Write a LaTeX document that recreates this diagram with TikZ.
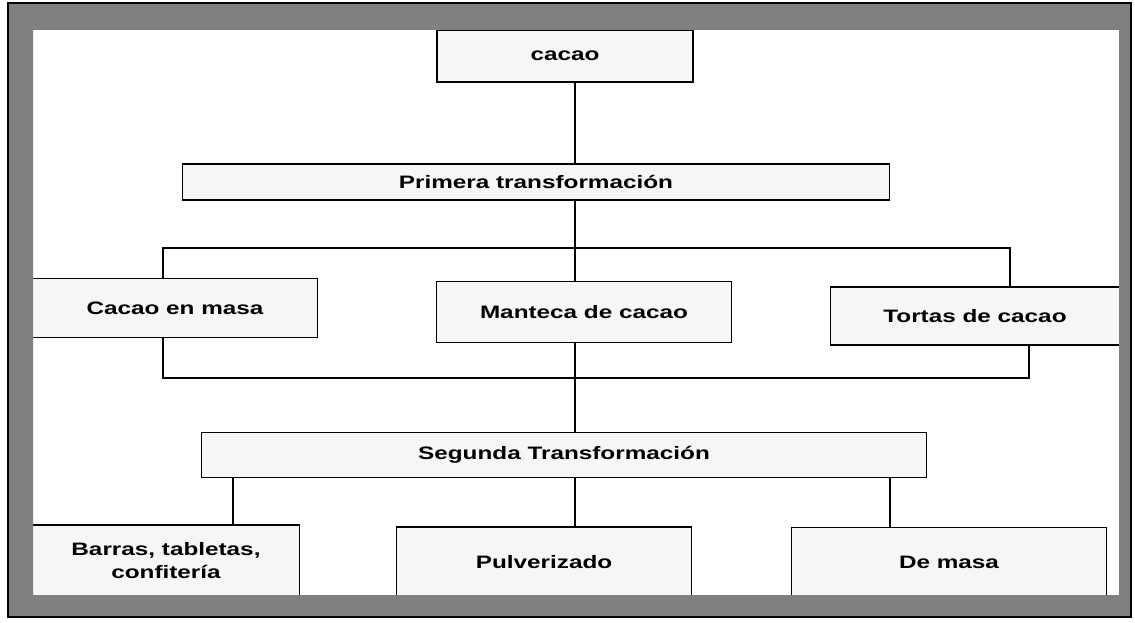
\documentclass[tikz,border=0pt]{standalone}
\usepackage{fontspec}
\usepackage{tikz}
\usepackage{xcolor}
\newfontfamily\boxfont[FakeStretch=1.35]{Liberation Sans}

\begin{document}
\begin{tikzpicture}[x=1pt,y=-1pt,
        box/.style={draw,line width=1.8pt,fill=gray!7,inner sep=0pt,align=center,
            font=\boxfont\bfseries\fontsize{18}{23}\selectfont},
        link/.style={line width=1.6pt}]
        % Page size and white background
        \useasboundingbox (0,0) rectangle (1135,623);
        \fill [white] (0,0) rectangle (1135,623);
        % Boxes
        \node [box,minimum width=256,minimum height=52] (cacao) at (565,56) {cacao};
        \node [box,minimum width=707,minimum height=36] (primera) at (536,182) {Primera transformación};
        \node [box,minimum width=285,minimum height=59] (masa) at (175,308) {Cacao en masa};
        \node [box,minimum width=295,minimum height=61] (manteca) at (584,312) {Manteca de cacao};
        \node [box,minimum width=289,minimum height=58] (tortas) at (975,316) {Tortas de cacao};
        \node [box,minimum width=725,minimum height=45] (segunda) at (564,455) {Segunda Transformación};
        \node [box,minimum width=267,minimum height=72] (barras) at (166,561) {Barras, tabletas,\\confitería};
        \node [box,minimum width=295,minimum height=70] (pulv) at (544,562) {Pulverizado};
        \node [box,minimum width=315,minimum height=69] (demasa) at (949,562) {De masa};
        % Helper points for the lines
        \coordinate (spine) at (575,0);
        \coordinate (topL) at (163,248);
        \coordinate (topR) at (1010,248);
        \coordinate (botL) at (163,378);
        \coordinate (botR) at (1029,378);
        \coordinate (legL) at (233,0);
        \coordinate (legR) at (890,0);
        % Main line
        \draw [link] (cacao.south -| spine) -- (primera.north -| spine);
        \draw [link] (primera.south -| spine) -- (manteca.north -| spine);
        \draw [link] (manteca.south -| spine) -- (segunda.north -| spine);
        % Brackets round the first products
        \draw [link] (masa.north -| topL) -- (topL) -- (topR) -- (tortas.north -| topR);
        \draw [link] (masa.south -| botL) -- (botL) -- (botR) -- (tortas.south -| botR);
        % Second products
        \draw [link] (segunda.south -| legL) -- (barras.north -| legL);
        \draw [link] (segunda.south -| spine) -- (pulv.north -| spine);
        \draw [link] (segunda.south -| legR) -- (demasa.north -| legR);
        % Gray frame
        \fill [black!50,even odd rule] (8,3) rectangle (1131,617) (33,30) rectangle (1119,595);
        \draw [line width=2pt] (8,3) rectangle (1131,617);
    \end{tikzpicture}
\end{document}
